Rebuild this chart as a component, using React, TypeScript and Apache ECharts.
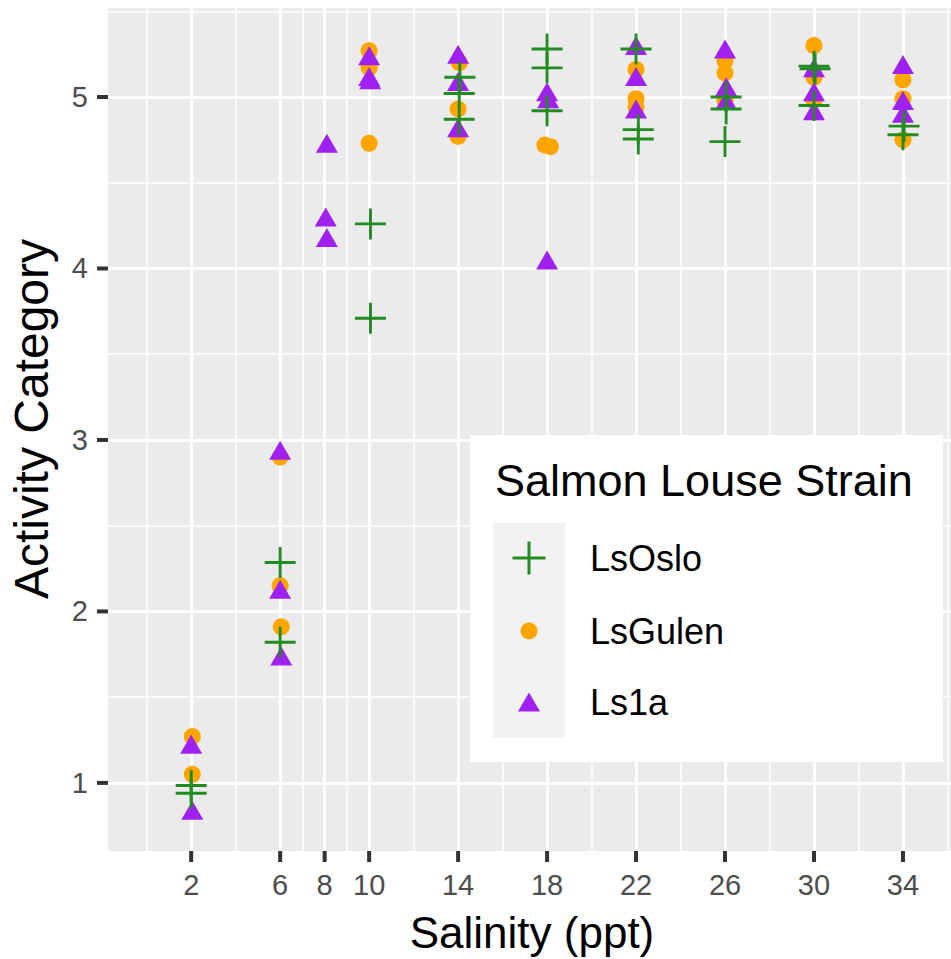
import React, { useEffect, useRef } from "react";
import * as echarts from "echarts";

// ---- data ----
const xTicks = [2, 6, 8, 10, 14, 18, 22, 26, 30, 34];
const xMinorGrid = [0, 4, 7, 9, 12, 16, 20, 24, 28, 32, 36];
const yTicks = [1, 2, 3, 4, 5];
const yMinorGrid = [1.5, 2.5, 3.5, 4.5, 5.5];

const strainNames = ["LsOslo", "LsGulen", "Ls1a"];
const xTitle = "Salinity (ppt)";
const yTitle = "Activity Category";
const legendTitle = "Salmon Louse Strain";

// [salinity, activity category]
const lsOslo: [number, number][] = [
  [2, 0.985], [2, 0.94],
  [6, 2.285], [6, 1.82],
  [10.06, 4.26], [10.06, 3.71],
  [14.08, 5.115], [14.05, 5.02], [14.05, 4.87],
  [18, 5.28], [18, 5.17], [18, 4.92],
  [22, 5.28], [22.1, 4.81], [22.1, 4.755],
  [26.05, 5.0], [26.05, 4.93], [26, 4.74],
  [30, 5.18], [30.05, 5.165], [30, 4.95],
  [34.05, 4.83], [34, 4.78],
];
const lsGulen: [number, number][] = [
  [2.05, 1.27], [2.05, 1.05],
  [6, 2.9], [6, 2.15], [6.05, 1.91],
  [10, 5.27], [10, 5.17], [10, 4.73],
  [14.05, 5.2], [14, 4.93], [14, 4.77],
  [17.9, 4.72], [18.15, 4.71],
  [22, 5.16], [22, 4.99], [22, 4.94],
  [26, 5.21], [26, 5.14], [26, 4.98],
  [30, 5.3], [30, 5.115], [30, 4.98],
  [34, 5.1], [34, 4.99], [34, 4.75],
];
const ls1a: [number, number][] = [
  [2, 1.225], [2.05, 0.84],
  [6, 2.94], [6, 2.13], [6.05, 1.74],
  [8.1, 4.73], [8.05, 4.3], [8.1, 4.18],
  [10, 5.24], [10, 5.12], [10.05, 5.1],
  [14, 5.25], [14, 5.09], [14, 4.82],
  [18, 5.03], [18.05, 4.99], [18, 4.05],
  [22, 5.3], [22, 5.12], [22, 4.93],
  [26, 5.28], [26.05, 5.06], [26.05, 4.98],
  [30, 5.17], [30, 5.03], [30, 4.92],
  [34, 5.19], [34, 4.98], [34, 4.905],
];

const X_MIN = -1.74;
const X_MAX = 36.16;
const Y_MIN = 0.603;
const Y_MAX = 5.519;

const W = 951;
const H = 959;

const GREEN = "#228B22";
const ORANGE = "#FFA500";
const PURPLE = "#A020F0";
const FONT = "Liberation Sans, Arial, sans-serif";
const PLUS_PATH = "path://M0,14.5H32V17.5H0ZM14.5,0H17.5V32H14.5Z";
const TICK_LEN = 11;
const TICK_W = 4;

export default function App() {
  const ref = useRef<HTMLDivElement>(null);

  useEffect(() => {
    if (!ref.current) return;
    const chart = echarts.init(ref.current, undefined, { renderer: "svg" });

    const gridLines = [
      ...xMinorGrid.map((v) => ({ xAxis: v, lineStyle: { color: "#FFFFFF", width: 1.5, type: "solid" } })),
      ...yMinorGrid.map((v) => ({ yAxis: v, lineStyle: { color: "#FFFFFF", width: 1.5, type: "solid" } })),
      ...xTicks.map((v) => ({ xAxis: v, lineStyle: { color: "#FFFFFF", width: 3, type: "solid" } })),
      ...yTicks.map((v) => ({ yAxis: v, lineStyle: { color: "#FFFFFF", width: 3, type: "solid" } })),
    ];

    const legendX = 470;
    const legendY = 435;
    const rowCenters = [558, 631, 702];
    const keyCx = 529;
    const Z = 100;

    const graphic: any[] = [
      {
        type: "text",
        z: Z,
        x: 532,
        y: 932,
        style: {
          text: xTitle,
          font: `44px ${FONT}`,
          fill: "#000000",
          textAlign: "center",
          textVerticalAlign: "middle",
          verticalAlign: "middle",
        },
      },
      {
        type: "text",
        z: Z,
        x: 31,
        y: 419,
        rotation: Math.PI / 2,
        style: {
          text: yTitle,
          font: `48px ${FONT}`,
          fill: "#000000",
          textAlign: "center",
          textVerticalAlign: "middle",
          verticalAlign: "middle",
        },
      },
      {
        type: "rect",
        z: Z,
        shape: { x: legendX, y: legendY, width: 473, height: 327 },
        style: { fill: "#FFFFFF" },
      },
      {
        type: "text",
        z: Z + 1,
        x: 495,
        y: 480,
        style: {
          text: legendTitle,
          font: `45px ${FONT}`,
          fill: "#000000",
          textAlign: "left",
          textVerticalAlign: "middle",
          verticalAlign: "middle",
        },
      },
      {
        type: "rect",
        z: Z + 1,
        shape: { x: 493, y: 523, width: 72, height: 215 },
        style: { fill: "#F2F2F2" },
      },
      {
        type: "rect",
        z: Z + 2,
        shape: { x: keyCx - 16.5, y: rowCenters[0] - 1.5, width: 33, height: 3 },
        style: { fill: GREEN },
      },
      {
        type: "rect",
        z: Z + 2,
        shape: { x: keyCx - 1.5, y: rowCenters[0] - 16.5, width: 3, height: 33 },
        style: { fill: GREEN },
      },
      {
        type: "circle",
        z: Z + 2,
        shape: { cx: keyCx, cy: rowCenters[1], r: 8.5 },
        style: { fill: ORANGE },
      },
      {
        type: "polygon",
        z: Z + 2,
        shape: {
          points: [
            [keyCx - 11, rowCenters[2] + 9.5],
            [keyCx + 11, rowCenters[2] + 9.5],
            [keyCx, rowCenters[2] - 9.5],
          ],
        },
        style: { fill: PURPLE },
      },
      ...strainNames.map((name, i) => ({
        type: "text",
        z: Z + 2,
        x: 590,
        y: rowCenters[i],
        style: {
          text: name,
          font: `36px ${FONT}`,
          fill: "#000000",
          textAlign: "left",
          textVerticalAlign: "middle",
          verticalAlign: "middle",
        },
      })),
    ];

    const option: any = {
      animation: false,
      backgroundColor: "#FFFFFF",
      grid: {
        left: 108,
        right: 0,
        top: 8,
        bottom: 108,
        show: true,
        backgroundColor: "#EBEBEB",
        borderWidth: 0,
        containLabel: false,
      },
      xAxis: {
        type: "value",
        min: X_MIN,
        max: X_MAX,
        axisLine: { show: false, onZero: false },
        axisTick: { show: false },
        axisLabel: {
          customValues: xTicks,
          fontSize: 29,
          color: "#4D4D4D",
          fontFamily: FONT,
          margin: 19,
        },
        splitLine: { show: false },
      },
      yAxis: {
        type: "value",
        min: Y_MIN,
        max: Y_MAX,
        axisLine: { show: false, onZero: false },
        axisTick: { show: false },
        axisLabel: {
          customValues: yTicks,
          fontSize: 29,
          color: "#4D4D4D",
          fontFamily: FONT,
          margin: 20,
        },
        splitLine: { show: false },
      },
      series: [
        {
          type: "line",
          name: "grid",
          data: [],
          z: 1,
          silent: true,
          markLine: {
            silent: true,
            z: 1,
            symbol: ["none", "none"],
            label: { show: false },
            emphasis: { disabled: true },
            animation: false,
            data: gridLines,
          },
        },
        // axis tick marks, placed on the axis edge through the chart's scales
        {
          type: "scatter",
          name: "xTickMarks",
          silent: true,
          clip: false,
          z: 20,
          data: xTicks.map((v) => [v, Y_MIN]),
          symbol: "rect",
          symbolSize: [TICK_W, TICK_LEN],
          symbolOffset: [0, TICK_LEN / 2],
          itemStyle: { color: "#333333", opacity: 1 },
        },
        {
          type: "scatter",
          name: "yTickMarks",
          silent: true,
          clip: false,
          z: 20,
          data: yTicks.map((v) => [X_MIN, v]),
          symbol: "rect",
          symbolSize: [TICK_LEN, TICK_W],
          symbolOffset: [-TICK_LEN / 2, 0],
          itemStyle: { color: "#333333", opacity: 1 },
        },
        {
          type: "scatter",
          name: strainNames[1],
          data: lsGulen,
          symbol: "circle",
          symbolSize: 17,
          itemStyle: { color: ORANGE, opacity: 1 },
          z: 3,
        },
        {
          type: "scatter",
          name: strainNames[2],
          data: ls1a,
          symbol: "triangle",
          symbolSize: [22, 19],
          itemStyle: { color: PURPLE, opacity: 1 },
          z: 4,
        },
        {
          type: "scatter",
          name: strainNames[0],
          data: lsOslo,
          symbol: PLUS_PATH,
          symbolSize: 31,
          itemStyle: { color: GREEN, opacity: 1 },
          z: 5,
        },
      ],
      graphic,
    };

    chart.setOption(option);

    return () => {
      chart.dispose();
    };
  }, []);

  return (
    <div
      ref={ref}
      style={{ position: "fixed", left: 0, top: 0, width: W, height: H }}
    />
  );
}
